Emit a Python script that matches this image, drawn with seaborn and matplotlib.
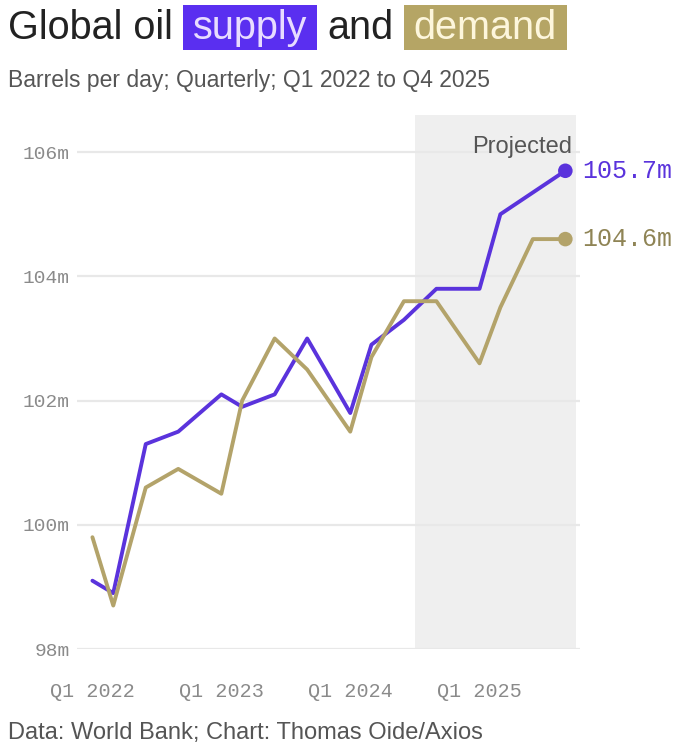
import matplotlib
matplotlib.use("Agg")
import matplotlib.pyplot as plt
from matplotlib.patches import Rectangle
import seaborn as sns
import pandas as pd

# ---- data ----
dates = ["2022-01-01", "2022-03-01", "2022-06-01", "2022-09-01",
         "2023-01-01", "2023-03-01", "2023-06-01", "2023-09-01",
         "2024-01-01", "2024-03-01", "2024-06-01", "2024-09-01",
         "2025-01-01", "2025-03-01", "2025-06-01", "2025-09-01"]
supply = [99.1, 98.9, 101.3, 101.5, 102.1, 101.9, 102.1, 103.0,
          101.8, 102.9, 103.3, 103.8, 103.8, 105.0, 105.35, 105.7]
demand = [99.8, 98.7, 100.6, 100.9, 100.5, 102.0, 103.0, 102.5,
          101.5, 102.7, 103.6, 103.6, 102.6, 103.5, 104.6, 104.6]
series_names = ["supply", "demand"]
y_ticks = [98, 100, 102, 104, 106]
y_tick_labels = ["98m", "100m", "102m", "104m", "106m"]
x_tick_dates = ["2022-01-01", "2023-01-01", "2024-01-01", "2025-01-01"]
x_tick_labels = ["Q1 2022", "Q1 2023", "Q1 2024", "Q1 2025"]
projected_start = "2024-07-01"
projected_end = "2025-10-01"

PURPLE = "#5a33dc"
PURPLE_BOX = "#5a2ff0"
GOLD = "#b3a36a"
GOLD_BOX = "#b5a565"

df = pd.DataFrame({
    "date": pd.to_datetime(dates * 2),
    "value": supply + demand,
    "series": [series_names[0]] * len(dates) + [series_names[1]] * len(dates),
})

sns.set_theme(style="white")
plt.rcParams["font.family"] = ["Liberation Sans", "DejaVu Sans"]

W, H = 699, 746
fig = plt.figure(figsize=(W / 100, H / 100), dpi=100)
ax = fig.add_axes([0.110, 0.130, 0.720, 0.716])

ax.axvspan(pd.Timestamp(projected_start), pd.Timestamp(projected_end),
           color="#efefef", zorder=0, lw=0)

sns.lineplot(data=df, x="date", y="value", hue="series",
             palette={"supply": PURPLE, "demand": GOLD},
             linewidth=2.8, legend=False, ax=ax, zorder=3)

last = df.groupby("series").tail(1)
sns.scatterplot(data=last, x="date", y="value", hue="series",
                palette={"supply": PURPLE, "demand": GOLD},
                s=110, legend=False, ax=ax, zorder=4, linewidth=0)

for _, r in last.iterrows():
    ax.annotate(f"{r['value']:.1f}m", (r["date"], r["value"]),
                xytext=(12, 0), textcoords="offset points", va="center",
                ha="left", fontsize=18, family="Liberation Mono",
                color=PURPLE if r["series"] == "supply" else "#8f8455",
                annotation_clip=False)

ax.text(pd.Timestamp("2025-05-01"), 106.08, "Projected", ha="center", va="center",
        fontsize=17, color="#555555")

ax.set_ylim(98, 106.6)
ax.set_xlim(pd.Timestamp("2021-11-18"), pd.Timestamp("2025-10-13"))
ax.set_yticks(y_ticks)
ax.set_yticklabels(y_tick_labels, family="Liberation Mono", fontsize=14, color="#8a8a8a")
ax.set_xticks(pd.to_datetime(x_tick_dates))
ax.set_xticklabels(x_tick_labels, family="Liberation Mono", fontsize=14.5, color="#8a8a8a")
ax.tick_params(axis="y", length=0, pad=5)
ax.tick_params(axis="x", length=17, width=1.2, color="#dcdcdc", pad=7, direction="out")
ax.grid(axis="y", color="#e8e8e8", lw=1.6)
ax.grid(axis="x", visible=False)
ax.set_axisbelow(True)
for s in ax.spines.values():
    s.set_visible(False)
ax.set_xlabel("")
ax.set_ylabel("")

# ---- title with highlighted words ----
fig.canvas.draw()
renderer = fig.canvas.get_renderer()
title_fs = 28.5
box_pad = 10
gap = 10
box_top, box_bot = 5, 50
title_parts = [("Global oil", None, "#222222"),
               ("supply", PURPLE_BOX, "#e8dcff"),
               ("and", None, "#222222"),
               ("demand", GOLD_BOX, "#fdf6dc")]
x_px = 8
y_frac = 1 - 28 / H
for i, (txt, bg, fc) in enumerate(title_parts):
    if i > 0:
        x_px += gap
    if bg:
        x_px += box_pad
    t = fig.text(x_px / W, y_frac, txt, fontsize=title_fs, color=fc, va="center",
                 ha="left", zorder=5)
    fig.canvas.draw()
    bb = t.get_window_extent(renderer)
    if bg:
        x0 = bb.x0 - box_pad
        x1 = bb.x1 + box_pad
        fig.patches.append(Rectangle((x0 / W, 1 - box_bot / H), (x1 - x0) / W,
                                     (box_bot - box_top) / H, transform=fig.transFigure,
                                     facecolor=bg, edgecolor="none", zorder=1))
        x_px = x1
    else:
        x_px = bb.x1

fig.text(8 / W, 1 - 80 / H, "Barrels per day; Quarterly; Q1 2022 to Q4 2025",
         fontsize=16.5, color="#555555", va="center", ha="left")
fig.text(8 / W, 1 - 733 / H, "Data: World Bank; Chart: Thomas Oide/Axios",
         fontsize=17, color="#555555", va="center", ha="left")

fig.savefig("out.png", dpi=100, facecolor="white")
